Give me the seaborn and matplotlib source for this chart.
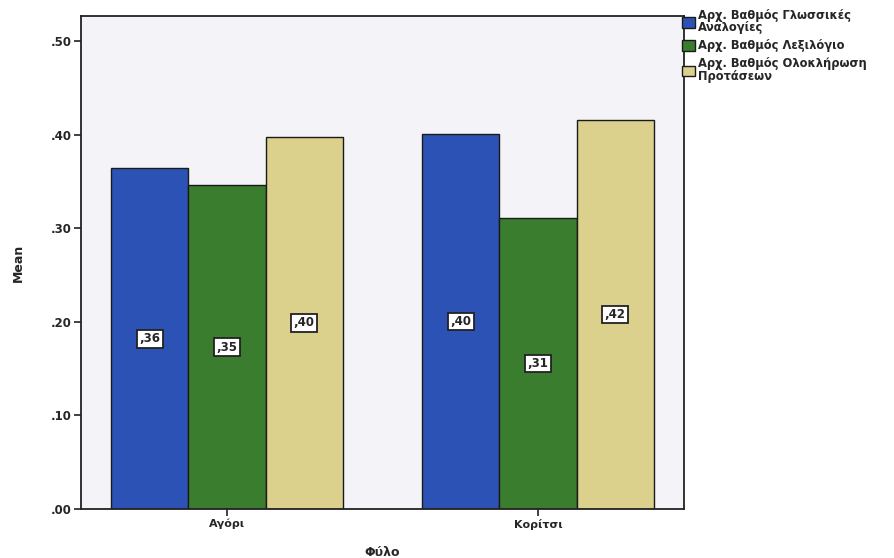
import matplotlib
matplotlib.use("Agg")
import matplotlib.pyplot as plt
import seaborn as sns
import pandas as pd

# Mean initial scores by gender
genders = ["Αγόρι", "Κορίτσι"]
measures = [
    "Αρχ. Βαθμός Γλωσσικές\nΑναλογίες",
    "Αρχ. Βαθμός Λεξιλόγιο",
    "Αρχ. Βαθμός Ολοκλήρωση\nΠροτάσεων",
]
means_boys = [0.364, 0.346, 0.398]
means_girls = [0.401, 0.311, 0.416]
y_ticks = [0.0, 0.1, 0.2, 0.3, 0.4, 0.5]
y_tick_labels = [".00", ".10", ".20", ".30", ".40", ".50"]

colors = ["#2D52B6", "#3B7D2F", "#DBD08C"]

rows = []
for m, v in zip(measures, means_boys):
    rows.append({"Φύλο": genders[0], "measure": m, "Mean": v})
for m, v in zip(measures, means_girls):
    rows.append({"Φύλο": genders[1], "measure": m, "Mean": v})
df = pd.DataFrame(rows)

sns.set_style("white")
plt.rcParams["font.family"] = ["DejaVu Sans"]

fig = plt.figure(figsize=(8.94, 5.58), dpi=100)
fig.patch.set_facecolor("white")
ax = fig.add_axes([0.0906, 0.0878, 0.6745, 0.8835])
ax.set_facecolor("#F4F4F8")

sns.barplot(data=df, x="Φύλο", y="Mean", hue="measure", order=genders,
            hue_order=measures, palette=colors, width=0.745, saturation=1,
            edgecolor="#1a1a1a", linewidth=1.0, errorbar=None, ax=ax)

# value labels in boxes at bar centers
for cont in ax.containers:
    for bar in cont:
        h = bar.get_height()
        ax.text(bar.get_x() + bar.get_width() / 2, h / 2,
                ("%.2f" % h).lstrip("0").replace(".", ","),
                ha="center", va="center", fontsize=8.5, fontweight="bold",
                bbox=dict(boxstyle="square,pad=0.2", facecolor="white",
                          edgecolor="#222222", linewidth=1.3))

ax.set_ylim(0, 0.527)
ax.set_xlim(-0.47, 1.47)
ax.set_yticks(y_ticks)
ax.set_yticklabels(y_tick_labels, fontsize=8.5, fontweight="bold")
ax.set_xticks([0, 1])
ax.set_xticklabels(genders, fontsize=8, fontweight="bold")
ax.tick_params(axis="both", direction="out", length=5, width=1.2,
               color="#222222", left=True, bottom=True, pad=2)
for s in ax.spines.values():
    s.set_visible(True)
    s.set_color("#222222")
    s.set_linewidth(1.3)

ax.set_ylabel("Mean", fontsize=9, fontweight="bold", labelpad=18)
ax.set_xlabel("Φύλο", fontsize=9, fontweight="bold", labelpad=12)

leg = ax.legend(loc="upper left", bbox_to_anchor=(0.997, 1.015), frameon=False,
                fontsize=8.3, handlelength=1.1, handleheight=1.0,
                handletextpad=0.25, labelspacing=0.45, borderaxespad=0.0,
                borderpad=0.0)
for t in leg.get_texts():
    t.set_fontweight("bold")
    t.set_linespacing(0.95)

fig.savefig("out.png", dpi=100)
